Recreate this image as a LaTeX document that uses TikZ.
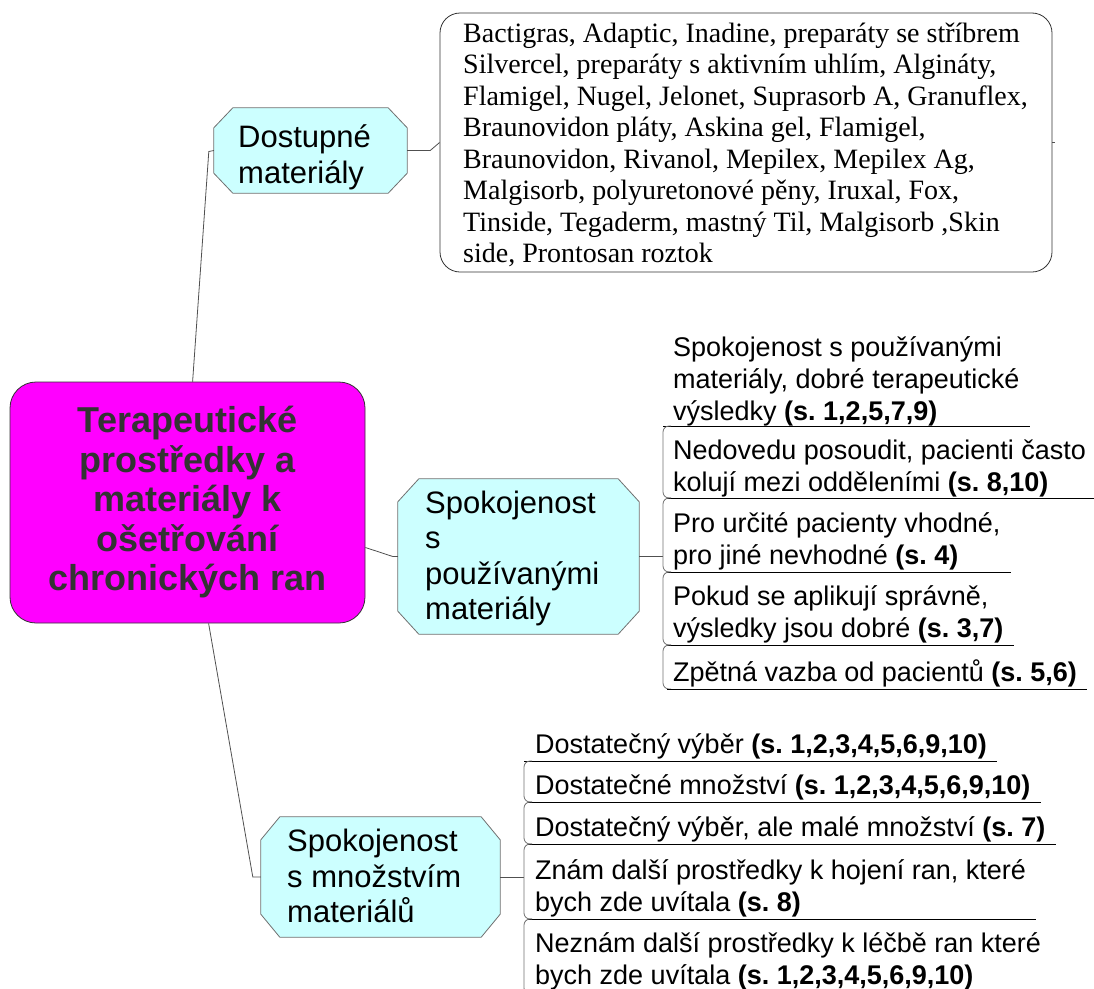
\documentclass[tikz,border=0pt]{standalone}
\usepackage{fontspec}
\setmainfont{Liberation Serif}
\newfontfamily\sansfont{Liberation Sans}
\usetikzlibrary{calc,backgrounds}
\frenchspacing
\definecolor{hubfill}{HTML}{FF00FF}
\definecolor{hubtext}{HTML}{333333}
\definecolor{topicfill}{HTML}{CCFFFF}
\definecolor{edgegray}{HTML}{505050}
\definecolor{bargray}{HTML}{707070}

% octagon drawn behind an (empty) topic node: name, chamfer x, chamfer y
\newcommand\octagonbox[3]{%
  \begin{pgfonlayer}{background}
    \draw[octa] ($(#1.north west)+(#2,0)$) -- ($(#1.north east)+(-#2,0)$)
      -- ($(#1.north east)+(0,#3)$) -- ($(#1.south east)+(0,-#3)$)
      -- ($(#1.south east)+(-#2,0)$) -- ($(#1.south west)+(#2,0)$)
      -- ($(#1.south west)+(0,-#3)$) -- ($(#1.north west)+(0,#3)$) -- cycle;
  \end{pgfonlayer}}

% bracket of a line topic: bar x, upper rule y, own rule y, text node
\newcommand\linetopic[4]{%
  \draw[bar] (#1+8,#2) -| (#1,#3) -- (#1+8,#3);
  \draw[rule] (#1+4,#3) -- ($(#4.east |- 0,#3)+(10,0)$);}

\begin{document}
\begin{tikzpicture}[x=1pt,y=-1pt,
  hub/.style={draw=hubtext, fill=hubfill, rounded corners=26pt, line width=0.8pt,
    minimum width=355pt, minimum height=241pt, inner sep=0pt, align=center,
    text=hubtext, font=\sansfont\bfseries\fontsize{36}{39.5}\selectfont},
  topic/.style={inner sep=0pt},
  octa/.style={draw=bargray, fill=topicfill, line width=0.8pt},
  topictxt/.style={font=\sansfont\fontsize{31}{35.5}\selectfont, align=left,
    inner sep=0pt, anchor=base west},
  item/.style={font=\sansfont\fontsize{27}{32}\selectfont, align=left,
    inner sep=0pt, anchor=base west},
  note/.style={draw=hubtext, fill=white, rounded corners=20pt, line width=0.8pt,
    minimum width=612pt, minimum height=259pt, inner sep=0pt},
  notetxt/.style={font=\fontsize{28}{31.5}\selectfont, align=left,
    inner sep=0pt, anchor=base west},
  link/.style={draw=edgegray, line width=0.8pt},
  bar/.style={draw=bargray, line width=0.8pt, rounded corners=6pt},
  rule/.style={draw=black, line width=1pt},
]
\useasboundingbox (0,0) rectangle (1094,988);

% central topic
\node[hub] (hub) at (187.5,502.5)
  {Terapeutické\\prostředky a\\materiály k\\ošetřování\\chronických ran};

% main topics (octagons); text nodes are placed by the baseline of their last line
\node[topic, minimum width=193pt, minimum height=85pt] (avail) at (310.5,150.5) {};
\node[topictxt] (availtxt) at (238,183) {Dostupné\\materiály};
\octagonbox{avail}{19}{20}

\node[topic, minimum width=241pt, minimum height=155pt] (mid) at (518.5,556.5) {};
\node[topictxt] (midtxt) at (425,619.5) {Spokojenost\\s\\používanými\\materiály};
\octagonbox{mid}{21}{23}

\node[topic, minimum width=239pt, minimum height=120pt] (qty) at (380.5,877) {};
\node[topictxt] (qtytxt) at (287,922.5) {Spokojenost\\s množstvím\\materiálů};
\octagonbox{qty}{19}{23}

% callout with the list of materials
\node[note] (note) at (746,142.5) {};
\node[notetxt] (notetxt) at (463,262.5)
  {Bactigras, Adaptic, Inadine, preparáty se stříbrem\\
   Silvercel, preparáty s aktivním uhlím, Algináty,\\
   Flamigel, Nugel, Jelonet, Suprasorb A, Granuflex,\\
   Braunovidon pláty, Askina gel, Flamigel,\\
   Braunovidon, Rivanol, Mepilex, Mepilex Ag,\\
   Malgisorb, polyuretonové pěny, Iruxal, Fox,\\
   Tinside, Tegaderm, mastný Til, Malgisorb ,Skin\\
   side, Prontosan roztok};

% connectors from the central topic
\draw[link] ($(hub.north west)+(183,0)$) -- ($(avail.west)+(-5,1)$) -- (avail.west);
\draw[link] ($(hub.east)+(0,45)$) -- ($(mid.west)+(-5,0)$) -- (mid.west);
\draw[link] ($(hub.south west)+(199,0)$) -- ($(qty.west)+(-8,0)$) -- (qty.west);
\draw[link] (avail.east) -- ++(23,0) -- (note.west);
\draw[link] (note.east) -- ++(3,0);

% subtopics of the satisfaction with materials
\coordinate (midbar) at (663,556.5);
\draw[link] (mid.east) -- (midbar);
\node[item] (m1) at (673,420) {Spokojenost s používanými\\materiály, dobré terapeutické\\výsledky \textbf{(s. 1,2,5,7,9)}};
\node[item] (m2) at (673,491) {Nedovedu posoudit, pacienti často\\kolují mezi odděleními \textbf{(s. 8,10)}};
\node[item] (m3) at (673,564) {Pro určité pacienty vhodné,\\pro jiné nevhodné \textbf{(s. 4)}};
\node[item] (m4) at (673,637) {Pokud se aplikují správně,\\výsledky jsou dobré \textbf{(s. 3,7)}};
\node[item] (m5) at (673,681) {Zpětná vazba od pacientů \textbf{(s. 5,6)}};
\draw[rule] (663,426) -- ($(m1.east |- 0,426)+(10,0)$);
\linetopic{663}{426}{498}{m2}
\linetopic{663}{498}{572}{m3}
\linetopic{663}{572}{645}{m4}
\linetopic{663}{645}{689}{m5}

% subtopics of the satisfaction with quantity
\coordinate (qtybar) at (524,877);
\draw[link] (qty.east) -- (qtybar);
\node[item] (q1) at (535,753) {Dostatečný výběr \textbf{(s. 1,2,3,4,5,6,9,10)}};
\node[item] (q2) at (535,794) {Dostatečné množství \textbf{(s. 1,2,3,4,5,6,9,10)}};
\node[item] (q3) at (535,836) {Dostatečný výběr, ale malé množství \textbf{(s. 7)}};
\node[item] (q4) at (535,911) {Znám další prostředky k hojení ran, které\\bych zde uvítala \textbf{(s. 8)}};
\node[item] (q5) at (535,984) {Neznám další prostředky k léčbě ran které\\bych zde uvítala \textbf{(s. 1,2,3,4,5,6,9,10)}};
\draw[rule] (524,761) -- ($(q1.east |- 0,761)+(10,0)$);
\linetopic{524}{761}{802}{q2}
\linetopic{524}{802}{844}{q3}
\linetopic{524}{844}{919}{q4}
\linetopic{524}{919}{994}{q5}
\end{tikzpicture}
\end{document}
